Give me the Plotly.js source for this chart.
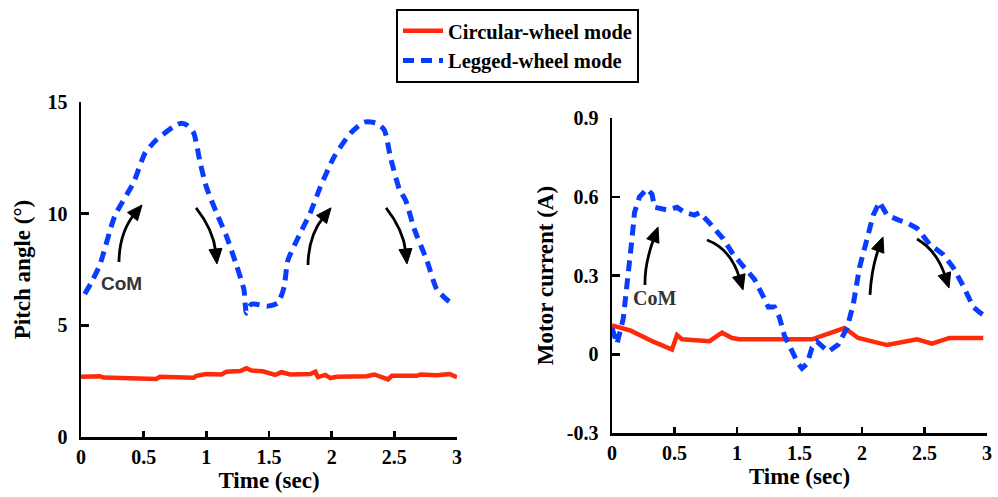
<!DOCTYPE html>
<html>
<head>
<meta charset="utf-8">
<script src="https://cdn.plot.ly/plotly-3.0.1.min.js"></script>
<style>
  html, body { margin: 0; padding: 0; background: #fff; }
  #chart { width: 998px; height: 497px; }
</style>
</head>
<body>
<div id="chart"></div>
<script>
// Pitch angle (deg) over time (sec)
const pitchLeggedT = [0.03, 0.09, 0.15, 0.27, 0.42, 0.51, 0.60, 0.74, 0.80, 0.85, 0.90, 0.95, 1.00, 1.08, 1.16, 1.24, 1.30, 1.32, 1.36, 1.49, 1.57, 1.62, 1.65, 1.73, 1.83, 1.91, 2.02, 2.15, 2.26, 2.36, 2.42, 2.47, 2.54, 2.59, 2.66, 2.76, 2.84, 2.93, 2.97];
const pitchLeggedV = [6.4, 7.0, 7.7, 9.9, 11.4, 12.7, 13.3, 13.9, 14.05, 13.95, 13.6, 12.3, 11.2, 10.05, 9.0, 7.7, 6.6, 5.55, 5.95, 5.86, 6.0, 6.7, 7.9, 8.9, 10.05, 11.2, 12.55, 13.6, 14.1, 14.05, 13.75, 12.5, 11.1, 10.6, 9.3, 7.9, 6.6, 6.1, 5.95];

const pitchWheelT = [0, 0.15, 0.18, 0.44, 0.60, 0.63, 0.90, 0.92, 1.00, 1.12, 1.16, 1.27, 1.32, 1.36, 1.45, 1.55, 1.60, 1.67, 1.83, 1.87, 1.89, 1.95, 1.99, 2.04, 2.28, 2.34, 2.45, 2.48, 2.68, 2.71, 2.84, 2.94, 3.0];
const pitchWheelV = [2.70, 2.72, 2.66, 2.60, 2.60, 2.70, 2.65, 2.74, 2.82, 2.80, 2.92, 2.95, 3.08, 2.98, 2.94, 2.78, 2.90, 2.80, 2.82, 2.92, 2.68, 2.78, 2.64, 2.70, 2.72, 2.80, 2.58, 2.74, 2.74, 2.80, 2.76, 2.82, 2.68];

// Motor current (A) over time (sec)
const currentLeggedT = [0.0, 0.04, 0.09, 0.13, 0.16, 0.18, 0.22, 0.28, 0.32, 0.34, 0.44, 0.52, 0.58, 0.66, 0.70, 0.78, 0.89, 0.97, 1.08, 1.14, 1.21, 1.25, 1.30, 1.34, 1.38, 1.44, 1.49, 1.52, 1.56, 1.60, 1.64, 1.73, 1.81, 1.88, 1.93, 1.98, 2.04, 2.09, 2.14, 2.20, 2.30, 2.36, 2.44, 2.54, 2.65, 2.73, 2.81, 2.89, 2.94, 3.0];
const currentLeggedV = [0.10, 0.04, 0.135, 0.29, 0.44, 0.54, 0.60, 0.63, 0.61, 0.56, 0.55, 0.56, 0.54, 0.53, 0.54, 0.50, 0.44, 0.38, 0.32, 0.285, 0.22, 0.18, 0.18, 0.14, 0.07, 0.01, -0.036, -0.054, -0.036, 0.025, 0.048, 0.01, 0.037, 0.10, 0.19, 0.33, 0.44, 0.53, 0.58, 0.53, 0.51, 0.50, 0.48, 0.42, 0.38, 0.33, 0.26, 0.18, 0.16, 0.14];

const currentWheelT = [0, 0.15, 0.33, 0.48, 0.52, 0.56, 0.78, 0.88, 0.96, 1.02, 1.60, 1.86, 1.97, 2.20, 2.44, 2.56, 2.70, 2.97];
const currentWheelV = [0.11, 0.09, 0.048, 0.018, 0.073, 0.057, 0.05, 0.082, 0.062, 0.057, 0.057, 0.10, 0.062, 0.035, 0.057, 0.04, 0.062, 0.062];

const xTicks = [0, 0.5, 1, 1.5, 2, 2.5, 3];
const pitchTicks = [0, 5, 10, 15];
const currentTicks = [-0.3, 0, 0.3, 0.6, 0.9];

const seriesNames = ['Circular-wheel mode', 'Legged-wheel mode'];

const RED = '#ff2a0a';
const BLUE = '#0a3cff';
const W = 998, H = 497;

const serif = { family: 'Liberation Serif, Times New Roman, serif', color: '#000', weight: 700 };

// plot-area boxes in pixels
const boxL = { x0: 81, x1: 457, yTop: 102, yBot: 437, xr: [0, 3], yr: [0, 15] };
const boxR = { x0: 612, x1: 987, yTop: 118, yBot: 433, xr: [0, 3], yr: [-0.3, 0.9] };

function xDomain(b) { return [b.x0 / W, b.x1 / W]; }
function yDomain(b) { return [(H - b.yBot) / H, (H - b.yTop) / H]; }
function scale(b) {
  return {
    sx: (b.x1 - b.x0) / (b.xr[1] - b.xr[0]),
    sy: (b.yBot - b.yTop) / (b.yr[1] - b.yr[0])
  };
}

// Curved black arrow: quadratic shaft from tail through a control point, with a filled head at the tip
function curvedArrow(tail, ctrl, tip, xref, yref, sc) {
  const headLen = 15, headHalf = 6.5;
  const dx = (tip[0] - ctrl[0]) * sc.sx;
  const dy = (tip[1] - ctrl[1]) * sc.sy;
  const len = Math.hypot(dx, dy);
  const ux = dx / len, uy = dy / len;
  const bx = tip[0] - ux * headLen / sc.sx;
  const by = tip[1] - uy * headLen / sc.sy;
  const sbx = tip[0] - ux * (headLen - 3) / sc.sx;
  const sby = tip[1] - uy * (headLen - 3) / sc.sy;
  const lx = bx - uy * headHalf / sc.sx, ly = by + ux * headHalf / sc.sy;
  const rx = bx + uy * headHalf / sc.sx, ry = by - ux * headHalf / sc.sy;
  return [
    {
      type: 'path', xref: xref, yref: yref,
      path: `M ${tail[0]},${tail[1]} Q ${ctrl[0]},${ctrl[1]} ${sbx},${sby}`,
      line: { color: '#000', width: 2.8 }
    },
    {
      type: 'path', xref: xref, yref: yref,
      path: `M ${tip[0]},${tip[1]} L ${lx},${ly} L ${rx},${ry} Z`,
      fillcolor: '#000', line: { color: '#000', width: 1 }
    }
  ];
}

const scL = scale(boxL), scR = scale(boxR);

// arrow tail / control / tip, in data units of each panel
const pitchArrows = [
  [[0.303, 7.84], [0.307, 9.16], [0.487, 10.39]],
  [[0.918, 10.26], [1.057, 9.27], [1.085, 7.75]],
  [[1.811, 7.70], [1.815, 9.02], [1.995, 10.26]],
  [[2.434, 10.26], [2.573, 9.27], [2.601, 7.75]]
];
const currentArrows = [
  [[0.264, 0.264], [0.260, 0.344], [0.368, 0.485]],
  [[0.760, 0.435], [0.952, 0.401], [1.048, 0.245]],
  [[2.064, 0.226], [2.076, 0.329], [2.168, 0.447]],
  [[2.440, 0.439], [2.600, 0.395], [2.696, 0.252]]
];

let shapes = [];
pitchArrows.forEach(a => { shapes = shapes.concat(curvedArrow(a[0], a[1], a[2], 'x', 'y', scL)); });
currentArrows.forEach(a => { shapes = shapes.concat(curvedArrow(a[0], a[1], a[2], 'x2', 'y2', scR)); });

const traces = [
  {
    x: pitchWheelT, y: pitchWheelV, xaxis: 'x', yaxis: 'y',
    type: 'scatter', mode: 'lines', name: seriesNames[0],
    line: { color: RED, width: 4.5 }, showlegend: true
  },
  {
    x: pitchLeggedT, y: pitchLeggedV, xaxis: 'x', yaxis: 'y',
    type: 'scatter', mode: 'lines', name: seriesNames[1],
    line: { color: BLUE, width: 5, dash: '11px,7px', shape: 'spline', smoothing: 0.6 },
    showlegend: true
  },
  {
    x: currentWheelT, y: currentWheelV, xaxis: 'x2', yaxis: 'y2',
    type: 'scatter', mode: 'lines', name: seriesNames[0],
    line: { color: RED, width: 4.5 }, showlegend: false
  },
  {
    x: currentLeggedT, y: currentLeggedV, xaxis: 'x2', yaxis: 'y2',
    type: 'scatter', mode: 'lines', name: seriesNames[1],
    line: { color: BLUE, width: 5, dash: '11px,7px' }, showlegend: false
  }
];

function xAxis(b, anchor) {
  return {
    domain: xDomain(b), anchor: anchor, range: b.xr,
    tickmode: 'array', tickvals: xTicks, ticktext: xTicks.map(String),
    ticks: 'inside', ticklen: 6, tickwidth: 2.5, tickcolor: '#000',
    showline: true, linecolor: '#000', linewidth: 2.5,
    showgrid: false, zeroline: false,
    tickfont: Object.assign({ size: 20 }, serif),
    ticklabelstandoff: 0,
    title: { text: 'Time (sec)', font: Object.assign({ size: 23 }, serif), standoff: 6 },
    automargin: false, fixedrange: true
  };
}

function yAxis(b, anchor, ticks, title, standoff) {
  return {
    domain: yDomain(b), anchor: anchor, range: b.yr,
    tickmode: 'array', tickvals: ticks, ticktext: ticks.map(String),
    ticks: 'inside', ticklen: 8, tickwidth: 2.5, tickcolor: '#000',
    showline: true, linecolor: '#000', linewidth: 2.5,
    showgrid: false, zeroline: false,
    tickfont: Object.assign({ size: 20 }, serif),
    ticklabelstandoff: 7,
    title: { text: title, font: Object.assign({ size: 23 }, serif), standoff: standoff },
    automargin: false, fixedrange: true
  };
}

const layout = {
  width: W, height: H,
  margin: { l: 0, r: 0, t: 0, b: 0 },
  paper_bgcolor: '#fff', plot_bgcolor: '#fff',
  showlegend: true,
  legend: {
    x: 396 / W, y: 1 - 9 / H, xanchor: 'left', yanchor: 'top',
    bgcolor: '#fff', bordercolor: '#000', borderwidth: 2,
    font: Object.assign({ size: 20.5 }, serif),
    traceorder: 'normal', itemwidth: 40, tracegroupgap: 0
  },
  xaxis: xAxis(boxL, 'y'),
  yaxis: yAxis(boxL, 'x', pitchTicks, 'Pitch angle (°)', 11),
  xaxis2: xAxis(boxR, 'y2'),
  yaxis2: yAxis(boxR, 'x2', currentTicks, 'Motor current (A)', 7),
  shapes: shapes,
  annotations: [
    {
      xref: 'x', yref: 'y', x: 0.327, y: 6.89, text: 'CoM', showarrow: false,
      font: { family: 'Liberation Sans, Arial, sans-serif', size: 19, color: '#333', weight: 700 }
    },
    {
      xref: 'x2', yref: 'y2', x: 0.336, y: 0.214, text: 'CoM', showarrow: false,
      font: { family: 'Liberation Serif, Times New Roman, serif', size: 20, color: '#333', weight: 700 }
    }
  ]
};

Plotly.newPlot('chart', traces, layout, { displayModeBar: false, staticPlot: true });
</script>
</body>
</html>
